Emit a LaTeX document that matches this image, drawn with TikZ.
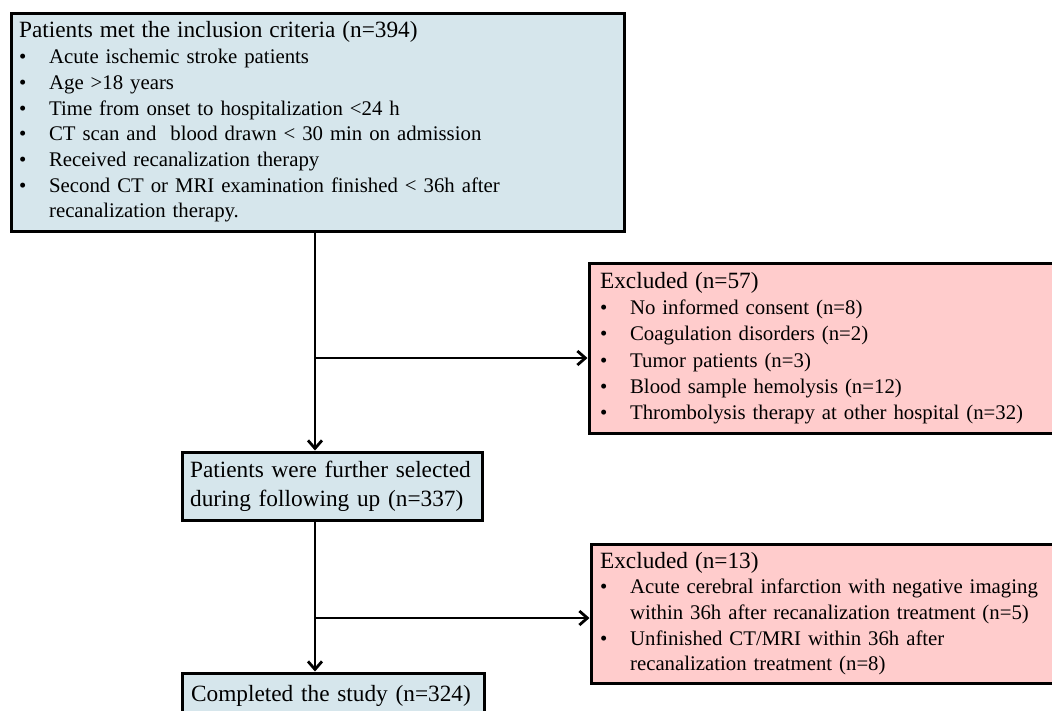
\documentclass[tikz,border=0pt]{standalone}
\usepackage{fontspec}
\setmainfont{Liberation Serif}
\usetikzlibrary{arrows.meta}

\definecolor{inblue}{RGB}{214,230,236}
\definecolor{expink}{RGB}{255,204,204}

\newcommand{\hd}[1]{{\fontsize{23.3}{25.7}\selectfont #1}}
\newcommand{\itm}[1]{\makebox[30pt][l]{\textbullet}#1}
\newcommand{\cnt}[1]{\hspace*{30pt}#1}

\tikzset{
  box/.style={draw=black, line width=3.2pt, anchor=north west, align=left,
    inner xsep=8pt, inner ysep=0pt, font=\fontsize{20.8}{25.7}\selectfont},
  inbox/.style={box, fill=inblue},
  exbox/.style={box, fill=expink},
  flow/.style={line width=2.8pt, -{Straight Barb[length=8pt,width=14pt]}}
}

\begin{document}
\begin{tikzpicture}[x=1pt,y=-1pt]
  \clip (0,0) rectangle (1052,710);
  \useasboundingbox (0,0) rectangle (1052,710);

  \node[inbox, text width=597pt, minimum height=218pt] (incl) at (9.5,11.5)
    {\hd{Patients met the inclusion criteria (n=394)}\\
     \itm{Acute ischemic stroke patients}\\
     \itm{Age >18 years}\\
     \itm{Time from onset to hospitalization <24 h}\\
     \itm{CT scan and\ \ blood drawn < 30 min on admission}\\
     \itm{Received recanalization therapy}\\
     \itm{Second CT or MRI examination finished < 36h after}\\
     \cnt{recanalization therapy.}};

  \node[exbox, text width=454pt, minimum height=170pt, inner xsep=11pt,
    font=\fontsize{20.8}{26.3}\selectfont] (excl1) at (587.5,261.5)
    {\hd{Excluded (n=57)}\\
     \itm{No informed consent (n=8)}\\
     \itm{Coagulation disorders (n=2)}\\
     \itm{Tumor patients (n=3)}\\
     \itm{Blood sample hemolysis (n=12)}\\
     \itm{Thrombolysis therapy at other hospital (n=32)}};

  \node[inbox, text width=284pt, minimum height=68pt,
    font=\fontsize{23.3}{29.5}\selectfont] (follow) at (180.5,450.5)
    {Patients were further selected\\during following up (n=337)};

  \node[exbox, text width=452pt, minimum height=139pt, inner xsep=9pt] (excl2) at (589.5,542.5)
    {\hd{Excluded (n=13)}\\
     \itm{Acute cerebral infarction with negative imaging}\\
     \cnt{within 36h after recanalization treatment (n=5)}\\
     \itm{Unfinished CT/MRI within 36h after}\\
     \cnt{recanalization treatment (n=8)}};

  \node[inbox, text width=284pt, minimum height=46pt, inner xsep=9pt,
    font=\fontsize{23.3}{25.7}\selectfont] (done) at (180.5,671.5)
    {Completed the study (n=324)};

  % split points on the trunk
  \coordinate (split1) at (315,358);
  \coordinate (split2) at (315,618);

  \draw[flow] (split1 |- incl.south) -- (split1 |- follow.north);
  \draw[flow] (split1) -- (split1 -| excl1.west);
  \draw[flow] (split2 |- follow.south) -- (split2 |- done.north);
  \draw[flow] (split2) -- (split2 -| excl2.west);
\end{tikzpicture}
\end{document}
